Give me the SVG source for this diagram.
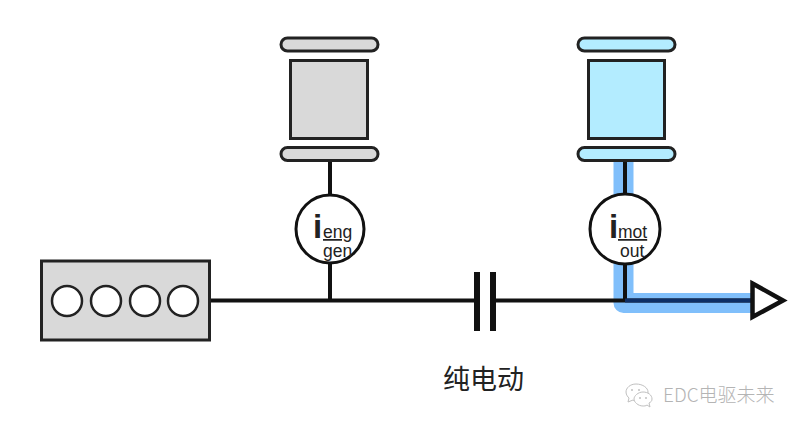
<svg xmlns="http://www.w3.org/2000/svg" width="799" height="430" viewBox="0 0 799 430">
<style>
.ln{fill:none;stroke:#111;stroke-width:4}
.gray{fill:#d9d9d9;stroke:#222;stroke-width:3}
.blue{fill:#b3ecff;stroke:#222;stroke-width:3}
.hole{fill:#fff;stroke:#222;stroke-width:2.5}
.ring{fill:#fff;stroke:#111;stroke-width:3}
text{font-family:"Liberation Sans","Noto Sans CJK SC",sans-serif;fill:#222}
.i{font-size:33px;font-weight:bold}
.sub{font-size:17.500px}
.wm{fill:#b4b4b4;font-size:19px;font-family:"Noto Sans CJK SC",sans-serif;font-weight:300}
.wi{fill:#fff;stroke:#c0c0c0;stroke-width:1}
.wd{fill:#c0c0c0}
</style>
<rect width="799" height="430" fill="#fff"/>
<g id="connectors">
<path d="M623.500 160V303H752" fill="none" stroke="#80bffb" stroke-width="20" stroke-linejoin="round"/>
<path class="ln" d="M209 300.500H475M495 300.500H752M330 160V195M330 262V300M625 160V195M625 263V300"/>
<path d="M625 300.500H752" fill="none" stroke="#0d2f66" stroke-width="4"/>
</g>
<g id="engine">
<rect class="gray" x="41.500" y="261" width="168" height="79"/>
<circle class="hole" cx="67" cy="301" r="15"/><circle class="hole" cx="106" cy="301" r="15"/><circle class="hole" cx="145" cy="301" r="15"/><circle class="hole" cx="183" cy="301" r="15"/>
</g>
<g id="generator-inertia">
<rect class="gray" x="281" y="38" width="97" height="13" rx="6.500"/>
<rect class="gray" x="290.500" y="60.500" width="77" height="78"/>
<rect class="gray" x="281" y="147.500" width="97" height="13" rx="6.500"/>
</g>
<g id="motor-inertia">
<rect class="blue" x="578" y="38" width="97" height="13" rx="6.500"/>
<rect class="blue" x="588.500" y="60.500" width="76" height="78"/>
<rect class="blue" x="578" y="147.500" width="97" height="13" rx="6.500"/>
</g>
<g id="i-eng-gen">
<circle class="ring" cx="330" cy="229" r="34"/>
<text class="i" x="313" y="238">i</text>
<text class="sub" x="323" y="238" text-decoration="underline">eng</text>
<text class="sub" x="323" y="257">gen</text>
</g>
<g id="i-mot-out">
<circle class="ring" cx="625" cy="229" r="35"/>
<text class="i" x="609" y="238">i</text>
<text class="sub" x="618" y="238" text-decoration="underline">mot</text>
<text class="sub" x="620" y="257">out</text>
</g>
<g id="clutch">
<path d="M477 272V331M493 272V331" fill="none" stroke="#111" stroke-width="6"/>
</g>
<g id="output-arrow">
<path d="M752.500 283.500L783 300.500L752.500 317Z" fill="#fff" stroke="#111" stroke-width="4.500"/>
</g>
<text x="443" y="389" font-size="27">纯电动</text>
<g id="watermark">
<path class="wi" d="M636 384c-6 0-10 4-10 8 0 3 2 5 3 6l-1 4 5-2c1 1 3 1 5 1 6 0 10-4 10-9 0-4-5-8-12-8z"/>
<path class="wi" d="M643 392c-5 0-9 4-9 7s4 7 9 7c1 0 3 0 4-1l3 2-1-4c2-1 3-2 3-4 0-4-4-7-9-7z"/>
<circle class="wd" cx="632" cy="390" r="1"/><circle class="wd" cx="639" cy="390" r="1"/><circle class="wd" cx="640" cy="398" r="1"/><circle class="wd" cx="646" cy="398" r="1"/>
<text class="wm" x="663" y="402">EDC电驱未来</text>
</g>
</svg>
